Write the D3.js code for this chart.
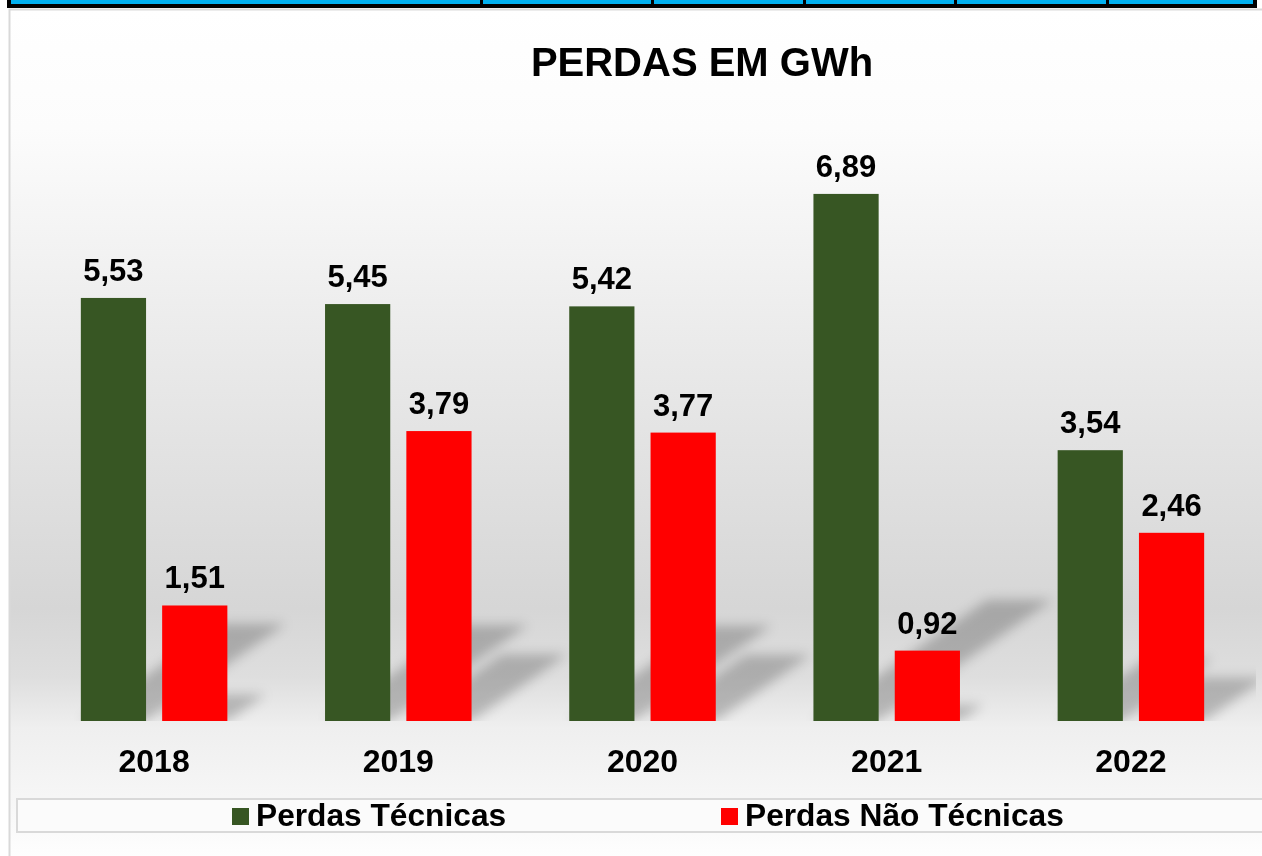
<!DOCTYPE html>
<html>
<head>
<meta charset="utf-8">
<script src="https://cdn.jsdelivr.net/npm/d3@7"></script>
<style>
  body { margin: 0; background: #fff; }
  svg { display: block; font-family: "Liberation Sans", Arial, sans-serif; font-weight: bold; }
</style>
</head>
<body>
<svg width="1262" height="856"></svg>
<script>
// data
let years = ["2018", "2019", "2020", "2021", "2022"];
let perdasTecnicas = [5.53, 5.45, 5.42, 6.89, 3.54];
let perdasNaoTecnicas = [1.51, 3.79, 3.77, 0.92, 2.46];
let seriesNames = ["Perdas Técnicas", "Perdas Não Técnicas"];
let seriesColors = ["#375623", "#ff0000"];
let headerCells = [481, 652, 804, 955, 1107]; // column dividers of the table above the chart

let svg = d3.select("svg");
let width = +svg.attr("width");
let height = +svg.attr("height");
let fmt = d3.formatLocale({decimal: ",", thousands: ".", grouping: [3], currency: ["", ""]}).format(".2f");

let defs = svg.append("defs");

// chart-area background gradient
let bg = defs.append("linearGradient").attr("id", "bg")
    .attr("x1", 0).attr("y1", 0).attr("x2", 0).attr("y2", 1);
[[0, "#ffffff"], [0.14, "#fcfcfc"], [0.40, "#eaeaea"], [0.70, "#d6d6d6"],
 [0.78, "#dedede"], [0.84, "#efefef"], [0.92, "#f6f6f6"], [1, "#ffffff"]]
    .forEach(s => bg.append("stop").attr("offset", s[0]).attr("stop-color", s[1]));

let blur = defs.append("filter").attr("id", "blur")
    .attr("x", "-50%").attr("y", "-50%").attr("width", "200%").attr("height", "200%");
blur.append("feGaussianBlur").attr("stdDeviation", 6);

defs.append("clipPath").attr("id", "plotClip")
    .append("rect").attr("x", 10).attr("y", 10).attr("width", 1246).attr("height", 711);

// top strip (bottom edge of the table above)
svg.append("rect").attr("x", 7).attr("y", 0).attr("width", 1250).attr("height", 8).attr("fill", "#000");
svg.append("rect").attr("x", 11).attr("y", 0).attr("width", 1242).attr("height", 4).attr("fill", "#00b0f0");
svg.selectAll(".hdiv").data(headerCells).enter().append("rect")
    .attr("x", d => d - 1).attr("y", 0).attr("width", 3).attr("height", 5).attr("fill", "#000");

// chart area
svg.append("rect").attr("x", 9).attr("y", 9).attr("width", width).attr("height", height)
    .attr("fill", "url(#bg)");
svg.append("path").attr("d", `M9.5,${height}V9.5H${width}`)
    .attr("fill", "none").attr("stroke", "#d9d9d9").attr("stroke-width", 2);

// scales
let x0 = d3.scaleBand().domain(years).range([32, 1253]);
let x1 = d3.scaleBand().domain(seriesNames)
    .range([x0.bandwidth() * 0.2, x0.bandwidth() * 0.8])
    .paddingInner(0.198);
let y = d3.scaleLinear().domain([0, 8]).range([721, 109]);

let bars = [];
years.forEach((yr, i) => {
    bars.push({year: yr, s: 0, v: perdasTecnicas[i]});
    bars.push({year: yr, s: 1, v: perdasNaoTecnicas[i]});
});

// perspective shadows
let shadowLayer = svg.append("g").attr("clip-path", "url(#plotClip)")
    .append("g").attr("filter", "url(#blur)");
shadowLayer.selectAll("polygon").data(bars).enter().append("polygon")
    .attr("points", d => {
        let xa = x0(d.year) + x1(seriesNames[d.s]);
        let xb = xa + x1.bandwidth();
        let b = y(0), h = y(0) - y(d.v);
        let dx = h * 0.33, dy = h * 0.23;
        return [[xa, b], [xb, b], [xb + dx, b - dy], [xa + dx, b - dy]].join(" ");
    })
    .attr("fill", "#000").attr("opacity", 0.22);

// bars
svg.append("g").selectAll("rect").data(bars).enter().append("rect")
    .attr("x", d => x0(d.year) + x1(seriesNames[d.s]))
    .attr("y", d => y(d.v))
    .attr("width", x1.bandwidth())
    .attr("height", d => y(0) - y(d.v))
    .attr("fill", d => seriesColors[d.s]);

// value labels
svg.append("g").selectAll("text").data(bars).enter().append("text")
    .attr("x", d => x0(d.year) + x1(seriesNames[d.s]) + x1.bandwidth() / 2)
    .attr("y", d => y(d.v) - 17)
    .attr("text-anchor", "middle")
    .attr("font-size", 31)
    .text(d => fmt(d.v));

// category axis labels
let xAxis = svg.append("g").attr("transform", `translate(0,${y(0)})`)
    .call(d3.axisBottom(x0).tickSize(0).tickPadding(0));
xAxis.select(".domain").remove();
xAxis.selectAll("text")
    .attr("dy", null).attr("y", 51)
    .attr("font-size", 32).attr("font-family", null).attr("fill", "#000");

// title
svg.append("text").attr("x", 702).attr("y", 76).attr("text-anchor", "middle")
    .attr("font-size", 40).text("PERDAS EM GWh");

// legend
svg.append("rect").attr("x", 17).attr("y", 799).attr("width", 1260).attr("height", 33)
    .attr("fill", "#fbfbfb").attr("stroke", "#d9d9d9").attr("stroke-width", 2);
let legendX = [232, 721];
let legend = svg.selectAll(".legend").data(seriesNames).enter().append("g")
    .attr("transform", (d, i) => `translate(${legendX[i]},0)`);
legend.append("rect").attr("x", 0).attr("y", 808).attr("width", 17).attr("height", 17)
    .attr("fill", (d, i) => seriesColors[i]);
legend.append("text").attr("x", 24).attr("y", 826).attr("font-size", 31.7).text(d => d);
</script>
</body>
</html>
